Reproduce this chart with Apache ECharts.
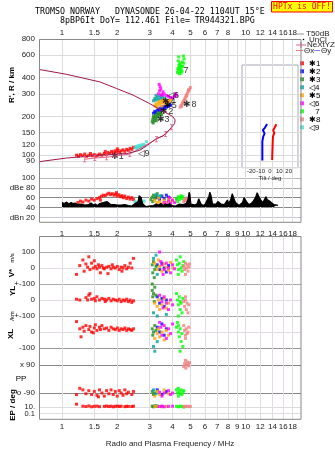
<!DOCTYPE html>
<html><head><meta charset="utf-8">
<script src="https://cdn.jsdelivr.net/npm/echarts@6/dist/echarts.min.js"></script>
<style>html,body{margin:0;padding:0;background:#fff}#c{width:335px;height:451px}</style>
</head><body><div id="c"></div>
<script>
// ---------- axis ticks ----------
const freqTicks = [1,1.5,2,3,4,5,6,7,8,9,10,12,14,16,18];
const freqTopLabels = [1,1.5,2,3,4,5,6,7,8,10,12,14,16,18];
const heightTicks = [80,90,100,120,150,200,300,400,600,800];
const dbTicks = [20,40,60,80,100];
const tiltTicks = [-20,-10,0,10,20];
const epTicksHigh = [10];
const epTicksLow = [0.1];

// ---------- profile & model lines (freq MHz, height km) ----------
const profileFreq = [0.75,1.06,1.61,2.25,2.65,3.0,3.27,3.55,3.86,4.1,4.13,4.0,3.55,3.0,2.44,1.98,1.61,1.06,0.75];
const profileHeight = [89,95,100,103,109,123,135,141,158,176,188,200,220,252,293,330,371,425,464];
const nexFreq = [1.33,1.51,1.75,2.34,3.27,3.67,3.95];
const nexHeight = [93,95,96.5,102,133,146,165];

// ---------- echo traces: virtual height ----------
const h1 = [[1.2,100],[1.23,98],[1.26,101],[1.3,99],[1.33,102],[1.36,98],[1.4,100],[1.43,103],[1.46,99],[1.5,101],[1.53,98],[1.57,100],[1.6,102],[1.65,100],[1.7,103],[1.74,101],[1.78,105],[1.82,103],[1.86,107],[1.9,104],[1.94,108],[1.98,106],[2.02,109],[2.06,105],[2.1,108],[2.15,110],[2.2,107],[2.25,111],[2.3,109],[2.35,113],[2.4,111],[2.45,115],[1.72,107],[2.0,112]];
const h2 = [[3.15,212],[3.2,219],[3.25,213],[3.3,223],[3.35,229],[3.4,221],[3.45,233],[3.5,226],[3.55,238],[3.6,231],[3.65,241],[3.7,236],[3.75,246],[3.8,240],[3.86,250],[3.9,244]];
const h3 = [[3.1,182],[3.12,190],[3.14,178],[3.17,196],[3.2,186],[3.22,203],[3.25,193],[3.28,208],[3.3,198],[3.33,212],[3.36,204],[3.4,209],[3.44,214],[3.48,207],[3.15,200],[3.26,185]];
const h4 = [[3.15,265],[3.2,276],[3.25,268],[3.3,283],[3.35,272],[3.4,289],[3.45,278],[3.5,271],[3.55,286],[3.6,276],[3.25,292]];
const h5 = [[3.2,241],[3.25,251],[3.3,246],[3.35,259],[3.4,249],[3.45,263],[3.5,255],[3.55,269],[3.6,258],[3.65,251],[3.7,263],[3.75,256],[3.8,266],[3.3,236],[3.5,241],[3.85,258],[3.9,270]];
const h6 = [[3.35,300],[3.4,316],[3.42,340],[3.45,328],[3.48,292],[3.5,296],[3.55,311],[3.6,299],[3.7,291],[3.8,286],[3.9,281],[4.0,279],[4.1,286],[4.2,292],[3.38,355],[4.15,300]];
const h7 = [[4.25,440],[4.28,470],[4.3,460],[4.33,500],[4.35,480],[4.3,540],[4.32,580],[4.38,520],[4.4,500],[4.42,455],[4.45,470],[4.48,490],[4.5,450],[4.52,530],[4.55,490],[4.58,590],[4.6,520],[4.62,560],[4.35,430],[4.45,435]];
const h8 = [[4.4,236],[4.45,243],[4.5,250],[4.48,240],[4.55,258],[4.6,265],[4.58,254],[4.65,273],[4.7,282],[4.68,268],[4.75,292],[4.8,300],[4.78,288],[4.85,310],[4.9,318],[4.95,326],[5.0,336],[4.88,322]];
const h9 = [[2.5,114],[2.54,117],[2.58,115],[2.62,119],[2.66,116],[2.7,120],[2.74,117],[2.78,121],[2.82,118],[2.88,127],[2.56,112],[2.68,113]];
const traceLabels = [[2.0,98,'✱1'],[2.78,103,'◁9'],[3.55,188,'✱3'],[3.72,218,'✱2'],[3.88,244,'✱5'],[3.82,262,'✱4'],[4.02,292,'◁6'],[4.74,456,'7'],[4.97,247,'✱8']];

// ---------- tilt inset (deg, km) ----------
const tiltXDeg = [2.3,2.6,3,3.3,4.7,3.4,5,5.8,6.8];
const tiltXHeight = [91,109,131,140,148,155,163,168,173];
const tiltYDeg = [-8.2,-8.2,-8.2,-7.2,-5.8,-7.6,-5.5,-4.4,-3];
const tiltYHeight = [90,109,127,139,146,156,162,168,173];

// ---------- amplitude (dB) ----------
const ampTrace = [[1.0,50],[1.03,48],[1.06,51],[1.09,47],[1.12,50],[1.15,48],[1.18,49],[1.21,46],[1.24,50],[1.27,47],[1.3,49],[1.33,45],[1.36,48],[1.4,46],[1.44,49],[1.48,45],[1.52,47],[1.56,44],[1.6,48],[1.64,46],[1.68,50],[1.72,47],[1.76,52],[1.8,49],[1.84,46],[1.88,44],[1.92,46],[1.96,43],[2.0,45],[2.05,42],[2.1,45],[2.15,43],[2.2,46],[2.25,42],[2.3,44],[2.35,47],[2.4,43],[2.45,45],[2.5,48],[2.55,46],[2.6,52],[2.63,64],[2.66,67],[2.7,60],[2.75,47],[2.8,44],[2.86,42],[2.92,45],[2.98,43],[3.05,46],[3.15,44],[3.25,47],[3.35,45],[3.45,48],[3.55,44],[3.65,47],[3.75,45],[3.85,48],[3.95,44],[4.05,46],[4.15,43],[4.25,45],[4.35,47],[4.45,44],[4.55,46],[4.65,43],[4.75,48],[4.85,56],[4.92,71],[4.97,66],[5.03,47],[5.15,43],[5.3,45],[5.45,48],[5.55,58],[5.62,62],[5.7,48],[5.85,44],[6.0,46],[6.15,50],[6.3,62],[6.38,71],[6.48,64],[6.6,47],[6.75,44],[6.9,47],[7.05,52],[7.2,56],[7.35,47],[7.5,44],[7.65,46],[7.8,50],[7.95,55],[8.1,48],[8.3,57],[8.45,68],[8.6,60],[8.8,50],[9.0,46],[9.2,44],[9.4,47],[9.6,50],[9.8,60],[9.95,64],[10.1,52],[10.4,46],[10.7,48],[11.0,53],[11.3,60],[11.55,70],[11.8,62],[12.1,55],[12.4,50],[12.7,54],[12.9,62],[13.1,56],[13.4,60],[13.6,52],[13.9,48],[14.2,46],[14.5,47],[14.8,45],[15.0,44]];
const d1 = [[1.22,50],[1.26,53],[1.3,51],[1.35,55],[1.4,53],[1.45,57],[1.5,55],[1.55,58],[1.6,60],[1.64,63],[1.68,65],[1.72,64],[1.76,67],[1.8,69],[1.84,66],[1.88,68],[1.92,65],[1.96,67],[2.0,63],[2.04,66],[2.08,62],[2.12,64],[2.16,60],[2.2,63],[2.25,58],[2.3,61],[2.35,57],[2.4,60],[2.45,56],[1.62,55],[1.98,70]];
const d2 = [[3.3,60],[3.4,56],[3.5,63],[3.6,58],[3.7,65],[3.8,61]];
const d3 = [[3.05,56],[3.1,61],[3.15,65],[3.2,58],[3.25,63],[3.3,68],[3.12,52]];
const d4 = [[3.25,66],[3.35,62],[3.45,64]];
const d5 = [[3.2,54],[3.3,50],[3.4,52],[3.5,48],[3.6,55],[3.7,50],[3.8,57],[3.9,52],[3.35,59],[4.0,55]];
const d6 = [[3.6,50],[3.7,46],[3.8,53],[3.9,48],[4.0,55],[4.1,50],[4.2,57],[3.85,60]];
const d7 = [[4.2,58],[4.25,52],[4.3,62],[4.35,56],[4.4,60],[4.45,64],[4.5,58],[4.55,62]];
const d8 = [[4.6,52],[4.65,57],[4.7,54],[4.75,59],[4.8,50],[4.85,55],[4.9,48],[4.95,53]];
const d9 = [[2.5,52],[2.55,48],[2.6,51],[2.65,46],[2.7,50],[2.75,47],[2.8,53]];

// ---------- V* (m/s) ----------
const v1 = [[1.2,-40],[1.25,15],[1.3,50],[1.32,-20],[1.35,25],[1.38,5],[1.4,70],[1.42,-10],[1.45,30],[1.48,0],[1.5,45],[1.52,10],[1.55,-5],[1.58,20],[1.6,5],[1.62,-30],[1.65,15],[1.68,0],[1.7,-5],[1.75,5],[1.8,10],[1.85,-5],[1.9,5],[1.95,0],[2.0,10],[2.05,-10],[2.1,5],[2.15,0],[2.2,15],[2.25,-5],[2.3,5],[2.35,30],[2.4,0],[2.45,60],[1.78,-35],[1.88,20],[2.12,-20]];
const v2 = [[3.3,20],[3.4,-10],[3.5,30],[3.6,0],[3.7,-25],[3.8,15]];
const v3 = [[3.1,20],[3.12,-30],[3.15,40],[3.2,-10],[3.18,-60],[3.25,10],[3.1,-100]];
const v4 = [[3.15,60],[3.25,80],[3.3,-40]];
const v5 = [[3.2,30],[3.3,-10],[3.35,50],[3.4,10],[3.5,-20],[3.6,25],[3.7,5],[3.8,-15],[3.9,35],[4.0,0]];
const v6 = [[3.4,100],[3.45,40],[3.5,20],[3.6,-10],[3.7,30],[3.8,0],[3.9,-30],[4.0,20],[4.1,-5],[3.55,-40]];
const v7 = [[4.2,50],[4.25,20],[4.3,-10],[4.35,30],[4.4,70],[4.45,0],[4.5,-20],[4.55,15],[4.6,40],[4.3,-40]];
const v8 = [[4.6,10],[4.65,-10],[4.7,30],[4.75,0],[4.8,20],[4.85,-20],[4.9,5],[4.95,25],[4.7,-40]];

// ---------- YL (km) ----------
const yl1 = [[1.2,5],[1.25,0],[1.35,15],[1.38,0],[1.4,30],[1.45,5],[1.5,10],[1.52,-5],[1.55,20],[1.6,0],[1.65,10],[1.7,5],[1.75,0],[1.8,10],[1.85,-5],[1.9,5],[1.95,0],[2.0,-5],[2.05,5],[2.1,-10],[2.15,0],[2.2,-5],[2.25,5],[2.3,-10],[2.35,0],[2.4,-15],[2.45,-5],[1.42,40],[1.72,-10]];
const yl2 = [[3.3,20],[3.4,-20],[3.5,10],[3.6,-40],[3.7,0]];
const yl3 = [[3.1,60],[3.15,40],[3.2,80],[3.12,20],[3.25,30],[3.18,-10]];
const yl4 = [[3.15,-80],[3.3,-100],[3.7,-90]];
const yl5 = [[3.2,-20],[3.3,-40],[3.35,0],[3.4,-60],[3.5,-30],[3.6,10],[3.7,-50],[3.8,-20]];
const yl6 = [[3.4,30],[3.5,-10],[3.55,-50],[3.6,20],[3.7,-20],[3.8,-60],[3.9,0],[4.0,-30]];
const yl7 = [[4.2,40],[4.25,0],[4.3,-30],[4.35,20],[4.4,-60],[4.45,-20],[4.5,-80],[4.55,10],[4.3,-100],[4.4,-10]];
const yl8 = [[4.6,-10],[4.65,-40],[4.7,0],[4.75,-60],[4.8,-20],[4.85,-80],[4.9,-30],[4.7,20]];

// ---------- XL (km) ----------
const xl1 = [[1.2,65],[1.25,20],[1.3,30],[1.32,5],[1.35,40],[1.4,15],[1.42,35],[1.45,0],[1.5,25],[1.52,45],[1.55,10],[1.6,30],[1.62,15],[1.65,40],[1.7,20],[1.75,25],[1.8,10],[1.85,30],[1.9,20],[1.95,15],[2.0,25],[2.05,10],[2.1,20],[2.15,15],[2.2,25],[2.25,10],[2.3,20],[2.35,15],[2.4,10],[2.45,20],[1.27,-30],[1.48,-5]];
const xl2 = [[3.3,30],[3.4,0],[3.5,50],[3.6,-20],[3.7,20]];
const xl3 = [[3.1,20],[3.15,0],[3.2,40],[3.12,-20],[3.25,10]];
const xl4 = [[3.15,-90],[3.2,-120],[3.3,-60]];
const xl5 = [[3.2,-40],[3.3,-10],[3.35,20],[3.4,-30],[3.5,0],[3.6,-50],[3.7,10],[3.8,-20]];
const xl6 = [[3.4,60],[3.45,30],[3.5,-20],[3.6,40],[3.7,-40],[3.8,20],[3.9,-10],[4.0,50]];
const xl7 = [[4.2,30],[4.25,60],[4.3,0],[4.35,-30],[4.4,20],[4.45,-60],[4.5,-10],[4.55,-90],[4.4,-120],[4.3,40]];
const xl8 = [[4.6,40],[4.65,10],[4.7,-20],[4.75,20],[4.8,-10],[4.85,0],[4.9,30],[4.7,-40]];

// ---------- PP (deg) ----------
const pp1 = [[1.2,-100],[1.3,-70],[1.35,-95],[1.4,-75],[1.45,-100],[1.5,-80],[1.55,-105],[1.6,-70],[1.65,-90],[1.7,-110],[1.75,-75],[1.8,-95],[1.85,-70],[1.9,-100],[1.95,-80],[2.0,-110],[2.05,-75],[2.1,-90],[2.15,-105],[2.2,-70],[2.25,-95],[2.3,-85],[2.4,-100],[2.45,-80],[1.25,-60],[1.58,-115]];
const pp2 = [[3.3,-70],[3.5,-100],[3.7,-80]];
const pp3 = [[3.1,-80],[3.15,-100],[3.2,-90]];
const pp4 = [[3.15,-70],[3.25,-95]];
const pp5 = [[3.2,-110],[3.3,-80],[3.4,-100],[3.6,-70],[3.8,-95]];
const pp6 = [[3.4,-85],[3.5,-110],[3.6,-90],[3.8,-75],[3.9,-100],[4.0,-90]];
const pp7 = [[4.2,-70],[4.25,-90],[4.3,-110],[4.35,-80],[4.4,-95],[4.45,-70],[4.5,-100],[4.55,-85],[4.6,-75],[4.3,-60]];
const pp8 = [[4.6,80],[4.65,100],[4.7,120],[4.75,90],[4.8,110],[4.85,95],[4.9,85],[4.95,105],[4.72,70]];

// ---------- EP (deg) ----------
const ep1 = [[1.2,60],[1.3,15],[1.35,12],[1.4,18],[1.45,10],[1.5,14],[1.55,16],[1.6,11],[1.7,13],[1.75,17],[1.8,12],[1.85,15],[1.9,10],[1.95,14],[2.0,16],[2.05,12],[2.1,15],[2.2,11],[2.25,14],[2.3,13],[2.4,12],[2.45,15]];
const ep2 = [[3.3,14],[3.5,12]];
const ep3 = [[3.1,15],[3.15,10],[3.2,18]];
const ep4 = [[3.25,20]];
const ep5 = [[3.2,12],[3.3,16],[3.5,10],[3.7,14]];
const ep6 = [[3.4,12],[3.5,16],[3.6,10],[3.8,13],[4.0,15]];
const ep7 = [[4.2,14],[4.3,10],[4.4,16],[4.5,12],[4.6,8]];
const ep8 = [[4.6,14],[4.7,12],[4.8,15],[4.9,11],[5.0,13]];

const modeNames = ['✱1','✱2','✱3','◁4','✱5','◁6','\u2002\u00a07','✱8','◁9'];
const modeColors = ['#ff0000','#0000ff','#228b22','#00a0a0','#ffa500','#ff00ff','#00ff00','#f08080','#40e0d0'];

// ---------- build ----------
const FONT = 'Liberation Sans, Arial, sans-serif';
const MONO = 'DejaVu Sans Mono, Liberation Mono, monospace';
const chart = echarts.init(document.getElementById('c'));

function fAxis(gi, extra) {
  return Object.assign({
    type:'log', logBase:10, gridIndex:gi, min:0.75, max:20,
    axisLine:{show:false}, axisTick:{show:false, customValues:freqTicks},
    axisLabel:{show:false},
    splitLine:{show:true, lineStyle:{color:'#dcdcdc', width:1}}
  }, extra || {});
}
function valY(gi, min, max, ticks, labels, colors) {
  return {
    type:'value', gridIndex:gi, min, max,
    axisLine:{show:false}, axisTick:{show:false, customValues:ticks},
    axisLabel:{show:true, hideOverlap:false, interval:0, customValues:ticks, fontSize:8, fontFamily:FONT, color:'#222', margin:4,
      formatter:v => labels[ticks.indexOf(v)]},
    splitLine:{show:true, lineStyle:{color:colors, width:1}}
  };
}
function epAxis(ticks, text) {
  return {type:'log', logBase:10, gridIndex:7, min:0.0019, max:265, position:'left', offset:0,
    axisLine:{show:false}, axisTick:{show:false, customValues:ticks},
    axisLabel:{show:true, hideOverlap:false, customValues:ticks, fontSize:7.5, fontFamily:FONT, color:'#222', margin:4,
      formatter:() => text},
    splitLine:{show:true, lineStyle:{color:'#ddd'}}};
}
function sc(i, data, xi, size) {
  return {type:'scatter', name:modeNames[i], xAxisIndex:xi, yAxisIndex:xi, data,
    symbol:'rect', symbolSize:size || 3, itemStyle:{color:modeColors[i]}, silent:true};
}
const gridBase = {left:39, width:262, show:false, containLabel:false, outerBoundsMode:'none'};

const series = [];
[h1,h2,h3,h4,h5,h6,h7,h8,h9].forEach((d,i)=>series.push(sc(i,d,0,3)));
series.push({type:'line', xAxisIndex:0, yAxisIndex:0, data:nexFreq.map((f,i)=>[f,nexHeight[i]]),
  symbol:'path://M0,0H4V1H2.5V7H4V8H0V7H1.5V1H0Z', symbolSize:[3,6], showSymbol:true,
  lineStyle:{color:'#e0608a', width:1}, itemStyle:{color:'#e0608a'}, silent:true});
series.push({type:'line', xAxisIndex:0, yAxisIndex:0, data:profileFreq.map((f,i)=>[f,profileHeight[i]]),
  symbol:'none', lineStyle:{color:'#a01848', width:1}, silent:true});
series.push({type:'scatter', xAxisIndex:0, yAxisIndex:0, data:traceLabels, symbolSize:1,
  itemStyle:{color:'transparent'}, silent:true,
  label:{show:true, position:'inside', formatter:p=>p.data[2], fontSize:9, fontFamily:FONT, color:'#000'}});
// dB panel
series.push({type:'line', xAxisIndex:1, yAxisIndex:1, data:ampTrace, symbol:'none',
  lineStyle:{color:'#000', width:1.2}, areaStyle:{color:'#000', opacity:1, origin:41}, silent:true});
[d1,d2,d3,d4,d5,d6,d7,d8,d9].forEach((d,i)=>series.push(sc(i,d,1,3)));
// inset tilt
series.push({type:'line', xAxisIndex:2, yAxisIndex:2, data:tiltXDeg.map((t,i)=>[t,tiltXHeight[i]]),
  symbol:'none', lineStyle:{color:'#ff0000', width:2}, z:7, silent:true});
series.push({type:'line', xAxisIndex:2, yAxisIndex:2, data:tiltYDeg.map((t,i)=>[t,tiltYHeight[i]]),
  symbol:'none', lineStyle:{color:'#0000ff', width:2}, z:7, silent:true});
// lower panels
[v1,v2,v3,v4,v5,v6,v7,v8].forEach((d,i)=>series.push(sc(i,d,3,3)));
[yl1,yl2,yl3,yl4,yl5,yl6,yl7,yl8].forEach((d,i)=>series.push(sc(i,d,4,3)));
[xl1,xl2,xl3,xl4,xl5,xl6,xl7,xl8].forEach((d,i)=>series.push(sc(i,d,5,3)));
[pp1,pp2,pp3,pp4,pp5,pp6,pp7,pp8].forEach((d,i)=>series.push(sc(i,d,6,3)));
[ep1,ep2,ep3,ep4,ep5,ep6,ep7,ep8].forEach((d,i)=>series.push(sc(i,d,7,3)));

const lowLine = '#e3dbe3';
const labelBase = {show:true, hideOverlap:false, interval:0, fontSize:8, fontFamily:FONT, color:'#222'};
const option = {
  animation:false,
  backgroundColor:'#fff',
  grid:[
    Object.assign({}, gridBase, {top:39, height:133}),
    Object.assign({}, gridBase, {top:172, height:50.3}),
    {left:242, top:65, width:56, height:102.7, show:true, backgroundColor:'transparent', borderColor:'#a8a8b8', borderWidth:1, containLabel:false, outerBoundsMode:'none'},
    Object.assign({}, gridBase, {top:236, height:48}),
    Object.assign({}, gridBase, {top:284, height:32}),
    Object.assign({}, gridBase, {top:316, height:40}),
    Object.assign({}, gridBase, {top:356, height:46}),
    Object.assign({}, gridBase, {top:402, height:17.3})
  ],
  xAxis:[
    fAxis(0, {position:'top', axisLabel:Object.assign({}, labelBase, {customValues:freqTopLabels, margin:2})}),
    fAxis(1, {position:'bottom', axisLabel:Object.assign({}, labelBase, {customValues:freqTicks, margin:7})}),
    {type:'value', gridIndex:2, min:-30, max:30, axisLine:{show:false}, axisTick:{show:false, customValues:tiltTicks},
      axisLabel:Object.assign({}, labelBase, {customValues:tiltTicks, fontSize:6, margin:1}),
      splitLine:{show:false}, name:'Tilt / deg', nameLocation:'middle', nameGap:8,
      nameTextStyle:{fontSize:6, fontFamily:FONT, color:'#222'}, z:6},
    fAxis(3, {splitLine:{show:true, lineStyle:{color:lowLine}}}),
    fAxis(4, {splitLine:{show:true, lineStyle:{color:lowLine}}}),
    fAxis(5, {splitLine:{show:true, lineStyle:{color:lowLine}}}),
    fAxis(6, {splitLine:{show:true, lineStyle:{color:lowLine}}}),
    fAxis(7, {splitLine:{show:true, lineStyle:{color:lowLine}}, position:'bottom',
      axisLabel:Object.assign({}, labelBase, {customValues:freqTicks, margin:3}),
      name:'Radio and Plasma Frequency / MHz', nameLocation:'middle', nameGap:20,
      nameTextStyle:{fontSize:8, fontFamily:FONT, color:'#222'}})
  ],
  yAxis:[
    {type:'log', logBase:10, gridIndex:0, min:74, max:800, axisLine:{show:false},
      axisTick:{show:false, customValues:heightTicks},
      axisLabel:Object.assign({}, labelBase, {customValues:heightTicks, margin:4}),
      splitLine:{show:true, lineStyle:{color:'#dcdcdc'}}},
    valY(1, 10, 112, dbTicks, ['dBn 20','40','60','dBe 80','100'], ['#c8c8dc','#888','#888','#aaa','#bbb']),
    {type:'log', logBase:10, gridIndex:2, min:79.2, max:502, axisLine:{show:false}, axisTick:{show:false},
      axisLabel:{show:false}, splitLine:{show:false}, z:6},
    valY(3, -100, 200, [-100,0,100], ['+-100','0','100'], ['#aaa',lowLine,'#aaa']),
    valY(4, -100, 100, [-100,0], ['+-100','0'], ['#aaa',lowLine]),
    valY(5, -150, 100, [-100,0], ['-100','0'], ['#999',lowLine]),
    valY(6, -148, 148, [-90,90], ['o -90','x 90'], ['#888','#888']),
    epAxis(epTicksHigh, '10.'),
    epAxis(epTicksLow, '0.1')
  ],
  legend:{
    data:modeNames, orient:'vertical', left:300, top:59.3, padding:0, itemGap:0,
    itemWidth:4, itemHeight:4, icon:'rect', selectedMode:false,
    textStyle:{fontSize:8, lineHeight:6, fontFamily:FONT, color:'#000', padding:0}
  },
  series,
  graphic:[
    {type:'rect', silent:true, z:10, shape:{x:39.5, y:39.5, width:261.5, height:182.8}, style:{fill:'none', stroke:'#888', lineWidth:1}},
    {type:'rect', silent:true, z:10, shape:{x:39.5, y:236.5, width:261.5, height:182.8}, style:{fill:'none', stroke:'#888', lineWidth:1}},
    {type:'rect', silent:true, shape:{x:271.5, y:1.5, width:61, height:10.5}, style:{fill:'#ffff00', stroke:'#ff0000', lineWidth:1}},
    {type:'text', silent:true, x:302, y:7, style:{text:'HPTx is OFF!', font:'8px '+MONO, fill:'#ff0000', align:'center', verticalAlign:'middle'}},
    {type:'text', silent:true, x:35, y:12.3, style:{text:'TROMSO NORWAY   DYNASONDE 26-04-22 1104UT 15°E', font:'8.3px '+MONO, fill:'#000', align:'left', verticalAlign:'middle'}},
    {type:'text', silent:true, x:60, y:20.7, style:{text:'8pBP6It DoY= 112.461 File= TR944321.BPG', font:'8.3px '+MONO, fill:'#000', align:'left', verticalAlign:'middle'}},
    {type:'text', silent:true, x:12, y:85, rotation:Math.PI/2, style:{text:"R', R / km", font:'bold 8px '+FONT, fill:'#000', align:'center', verticalAlign:'middle'}},
    {type:'text', silent:true, x:12, y:273, rotation:Math.PI/2, style:{text:'V*', font:'bold 8px '+FONT, fill:'#000', align:'center', verticalAlign:'middle'}},
    {type:'text', silent:true, x:12.5, y:258, rotation:Math.PI/2, style:{text:'m/s', font:'6px '+FONT, fill:'#000', align:'center', verticalAlign:'middle'}},
    {type:'text', silent:true, x:12.5, y:291, rotation:Math.PI/2, style:{text:'YL', font:'bold 8px '+FONT, fill:'#000', align:'center', verticalAlign:'middle'}},
    {type:'text', silent:true, x:12.5, y:316, rotation:Math.PI/2, style:{text:'/km', font:'6px '+FONT, fill:'#000', align:'center', verticalAlign:'middle'}},
    {type:'text', silent:true, x:11, y:334, rotation:Math.PI/2, style:{text:'XL', font:'bold 8px '+FONT, fill:'#000', align:'center', verticalAlign:'middle'}},
    {type:'text', silent:true, x:21, y:379, style:{text:'PP', font:'8px '+FONT, fill:'#000', align:'center', verticalAlign:'middle'}},
    {type:'text', silent:true, x:13, y:405, rotation:Math.PI/2, style:{text:'EP / deg', font:'bold 8px '+FONT, fill:'#000', align:'center', verticalAlign:'middle'}},
    // legend header rows
    {type:'line', silent:true, shape:{x1:297, y1:34, x2:304, y2:34}, style:{stroke:'#999', lineWidth:1}},
    {type:'text', silent:true, x:306, y:34, style:{text:'T50dB', font:'8px '+FONT, fill:'#222', align:'left', verticalAlign:'middle'}},
    {type:'circle', silent:true, shape:{cx:303.5, cy:39.5, r:0.8}, style:{fill:'#000'}},
    {type:'text', silent:true, x:309, y:39.5, style:{text:'UnCl', font:'8px '+FONT, fill:'#222', align:'left', verticalAlign:'middle'}},
    {type:'line', silent:true, shape:{x1:296, y1:45, x2:306, y2:45}, style:{stroke:'#e0608a', lineWidth:1}},
    {type:'line', silent:true, shape:{x1:301, y1:42, x2:301, y2:48}, style:{stroke:'#e0608a', lineWidth:1}},
    {type:'text', silent:true, x:307, y:45, style:{text:'NeXtYZ', font:'8px '+FONT, fill:'#222', align:'left', verticalAlign:'middle'}},
    {type:'line', silent:true, shape:{x1:296, y1:50.5, x2:303, y2:50.5}, style:{stroke:'#f08080', lineWidth:1}},
    {type:'text', silent:true, x:304, y:50.5, style:{text:'Θx', font:'8px '+FONT, fill:'#222', align:'left', verticalAlign:'middle'}},
    {type:'line', silent:true, shape:{x1:314, y1:50.5, x2:320, y2:50.5}, style:{stroke:'#8080f0', lineWidth:1}},
    {type:'text', silent:true, x:321, y:50.5, style:{text:'Θy', font:'8px '+FONT, fill:'#222', align:'left', verticalAlign:'middle'}}
  ]
};
chart.setOption(option);
</script>
</body></html>
